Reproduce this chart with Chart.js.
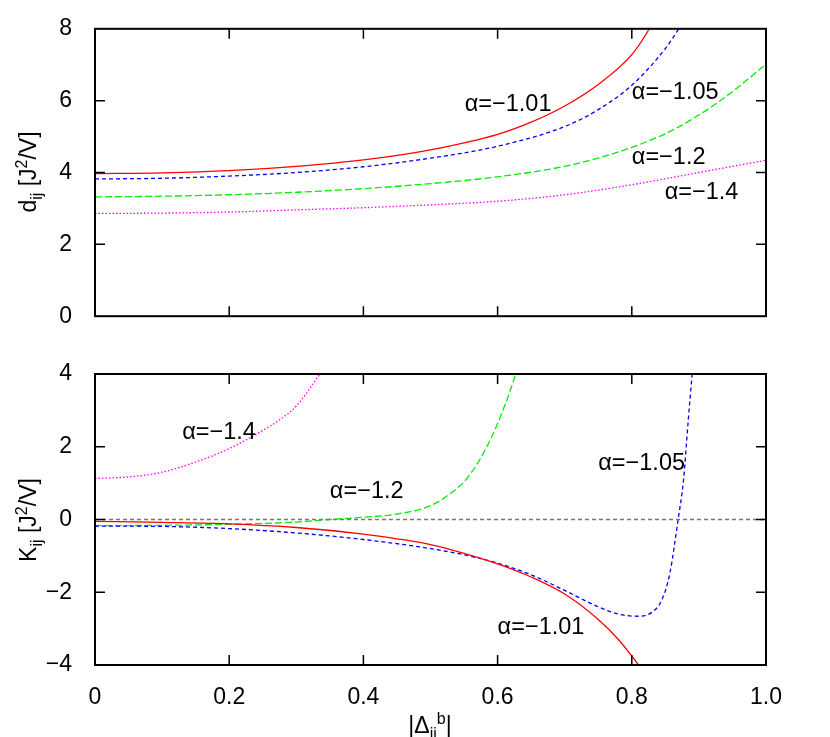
<!DOCTYPE html>
<html>
<head>
<meta charset="utf-8">
<script src="https://cdn.jsdelivr.net/npm/chart.js@4"></script>
<style>
  body { margin: 0; background: #fff; }
  #wrap { position: relative; width: 830px; height: 737px; overflow: hidden;
          font-family: "Liberation Sans", Arial, sans-serif; color: #000; }
  canvas { position: absolute; left: 0; }
  .ytitle { position: absolute; font-size: 23px; white-space: nowrap;
            transform: translate(-50%, -50%) rotate(-90deg); }
  .xtitle { position: absolute; font-size: 23px; white-space: nowrap; transform: translateX(-50%); }
  .sub { font-size: 16px; position: relative; top: 6px; }
  .sup { font-size: 16px; position: relative; top: -9px; }
</style>
</head>
<body>
<div id="wrap">
  <canvas id="top" width="830" height="345" style="top:0"></canvas>
  <canvas id="bottom" width="830" height="392" style="top:345px"></canvas>
  <div class="ytitle" style="left:28px; top:172px">d<span class="sub">ij</span> [J<span class="sup">2</span>/V]</div>
  <div class="ytitle" style="left:28px; top:520px">K<span class="sub">ij</span> [J<span class="sup">2</span>/V]</div>
  <div class="xtitle" style="left:430px; top:712px">|&Delta;<span class="sub">ii</span><span class="sup">b</span>|</div>
</div>
<script>
// top panel: d_ij
const dRedX  = [0, 0.1, 0.2, 0.3, 0.4, 0.5, 0.6, 0.65, 0.7, 0.75, 0.8, 0.826, 0.85];
const dRedY  = [3.97, 3.99, 4.05, 4.17, 4.35, 4.63, 5.06, 5.4, 5.85, 6.45, 7.28, 8.0, 8.9];
const dBlueX = [0, 0.1, 0.2, 0.3, 0.4, 0.5, 0.6, 0.7, 0.75, 0.8, 0.85, 0.87, 0.9];
const dBlueY = [3.82, 3.84, 3.9, 4.0, 4.16, 4.4, 4.73, 5.28, 5.75, 6.43, 7.45, 8.0, 8.9];
const dGreenX = [0, 0.1, 0.2, 0.3, 0.4, 0.5, 0.6, 0.7, 0.75, 0.8, 0.85, 0.9, 0.95, 1.0];
const dGreenY = [3.32, 3.34, 3.38, 3.45, 3.55, 3.69, 3.88, 4.17, 4.4, 4.7, 5.08, 5.6, 6.25, 7.02];
const dMagX = [0, 0.1, 0.2, 0.3, 0.4, 0.5, 0.6, 0.7, 0.8, 0.9, 1.0];
const dMagY = [2.86, 2.87, 2.9, 2.96, 3.02, 3.1, 3.2, 3.38, 3.66, 4.0, 4.34];

// bottom panel: K_ij
const kRedX  = [0, 0.1, 0.2, 0.3, 0.4, 0.45, 0.5, 0.55, 0.6, 0.65, 0.7, 0.75, 0.78, 0.808, 0.83];
const kRedY  = [-0.05, -0.08, -0.12, -0.22, -0.4, -0.53, -0.69, -0.93, -1.22, -1.58, -2.05, -2.75, -3.3, -3.95, -4.5];
const kBlueX = [0, 0.1, 0.2, 0.3, 0.4, 0.5, 0.55, 0.6, 0.65, 0.7, 0.75, 0.78, 0.81, 0.83, 0.845, 0.857, 0.869, 0.877, 0.884, 0.89, 0.895];
const kBlueY = [-0.18, -0.19, -0.25, -0.37, -0.55, -0.8, -0.97, -1.2, -1.52, -1.95, -2.4, -2.6, -2.66, -2.55, -2.2, -1.45, 0, 1.07, 2.7, 4.0, 5.0];
const kGreenX = [0, 0.1, 0.2, 0.3, 0.35, 0.4, 0.45, 0.5, 0.53, 0.554, 0.584, 0.61, 0.627, 0.64];
const kGreenY = [-0.17, -0.16, -0.13, -0.07, 0, 0.06, 0.15, 0.38, 0.72, 1.12, 2.0, 3.1, 4.0, 4.8];
const kMagX = [0, 0.05, 0.1, 0.15, 0.2, 0.25, 0.276, 0.3, 0.332, 0.345];
const kMagY = [1.13, 1.17, 1.3, 1.58, 1.95, 2.45, 2.75, 3.12, 3.92, 4.3];
const zeroX = [0, 1];
const zeroY = [0, 0];

// tick values
const xTicks = [0, 0.2, 0.4, 0.6, 0.8, 1.0];
const dTicks = [0, 2, 4, 6, 8];
const kTicks = [-4, -2, 0, 2, 4];

// curve labels
const dLabelText = ['α=−1.01', 'α=−1.05', 'α=−1.2', 'α=−1.4'];
const dLabelX = [0.551, 0.8, 0.8, 0.849];
const dLabelY = [5.9, 6.24, 4.42, 3.43];
const kLabelText = ['α=−1.4', 'α=−1.2', 'α=−1.05', 'α=−1.01'];
const kLabelX = [0.13, 0.35, 0.75, 0.6];
const kLabelY = [2.4, 0.76, 1.55, -2.98];

const FONT = '"Liberation Sans", Arial, sans-serif';

function pts(xs, ys) { return xs.map((x, i) => ({ x: x, y: ys[i] })); }

function line(xs, ys, color, dash, width) {
  return {
    data: pts(xs, ys), borderColor: color, borderWidth: width || 1.3, borderDash: dash,
    pointRadius: 0, fill: false, cubicInterpolationMode: 'monotone'
  };
}

function fmt(v) {
  if (v === 0) return '0';
  return String(v).replace('-', '−');
}

const frame = {
  id: 'frame',
  afterDatasetsDraw(chart, args, opts) {
    const { ctx, chartArea: a, scales: { x, y } } = chart;
    ctx.save();
    ctx.strokeStyle = '#000';
    ctx.lineWidth = 1.5;
    ctx.beginPath();
    xTicks.slice(1, -1).forEach(v => {
      const px = x.getPixelForValue(v);
      ctx.moveTo(px, a.bottom); ctx.lineTo(px, a.bottom - 10);
      ctx.moveTo(px, a.top); ctx.lineTo(px, a.top + 10);
    });
    opts.yTicks.slice(1, -1).forEach(v => {
      const py = y.getPixelForValue(v);
      ctx.moveTo(a.left, py); ctx.lineTo(a.left + 10, py);
      ctx.moveTo(a.right, py); ctx.lineTo(a.right - 10, py);
    });
    ctx.stroke();
    ctx.lineWidth = 2;
    ctx.strokeRect(a.left, a.top, a.width, a.height);
    ctx.fillStyle = '#000';
    ctx.font = '23.5px ' + FONT;
    ctx.textAlign = 'left';
    ctx.textBaseline = 'middle';
    opts.text.forEach((t, i) => {
      ctx.fillText(t, x.getPixelForValue(opts.lx[i]), y.getPixelForValue(opts.ly[i]));
    });
    ctx.restore();
  }
};

function panel(id, datasets, yTicks, showX, xHeight, padTop, text, lx, ly) {
  return new Chart(document.getElementById(id), {
    type: 'line',
    data: { datasets: datasets },
    plugins: [frame],
    options: {
      animation: false, responsive: false, maintainAspectRatio: false,
      layout: { padding: { top: padTop, right: 64, left: 0, bottom: 0 } },
      plugins: {
        legend: { display: false }, tooltip: { enabled: false },
        frame: { yTicks: yTicks, text: text, lx: lx, ly: ly }
      },
      scales: {
        x: {
          type: 'linear', min: 0, max: 1,
          grid: { display: false }, border: { display: false },
          afterBuildTicks: s => { s.ticks = xTicks.map(v => ({ value: v })); },
          ticks: {
            display: showX, color: '#000', padding: 11, maxRotation: 0,
            font: { family: FONT, size: 23 },
            callback: v => v === 0 ? '0' : v.toFixed(1)
          },
          afterFit: s => { s.height = xHeight; }
        },
        y: {
          type: 'linear', min: yTicks[0], max: yTicks[yTicks.length - 1],
          grid: { display: false }, border: { display: false },
          afterBuildTicks: s => { s.ticks = yTicks.map(v => ({ value: v })); },
          ticks: {
            color: '#000', padding: 15,
            font: { family: FONT, size: 23 },
            callback: v => fmt(v)
          },
          afterFit: s => { s.width = 95; }
        }
      }
    }
  });
}

panel('top', [
  line(dRedX, dRedY, '#ff0000', []),
  line(dBlueX, dBlueY, '#0000ff', [4, 3]),
  line(dGreenX, dGreenY, '#00ee00', [7, 3]),
  line(dMagX, dMagY, '#ff00ff', [1.5, 2])
], dTicks, false, 27, 27, dLabelText, dLabelX, dLabelY);

panel('bottom', [
  line(zeroX, zeroY, '#777777', [4, 3], 1.5),
  line(kRedX, kRedY, '#ff0000', []),
  line(kBlueX, kBlueY, '#0000ff', [4, 3]),
  line(kGreenX, kGreenY, '#00ee00', [7, 3]),
  line(kMagX, kMagY, '#ff00ff', [1.5, 2])
], kTicks, true, 72, 29, kLabelText, kLabelX, kLabelY);
</script>
</body>
</html>
